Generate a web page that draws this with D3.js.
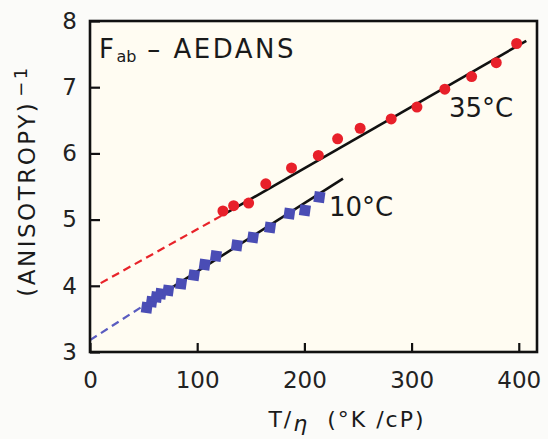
<!DOCTYPE html>
<html><head><meta charset="utf-8">
<script src="https://cdn.jsdelivr.net/npm/d3@7"></script>
<style>
html,body{margin:0;padding:0;background:#fbfbf9;}
svg{display:block;font-family:"DejaVu Sans",sans-serif;}
</style></head>
<body><svg id="c" width="548" height="439"></svg>
<script>
// Data
const xTicks = [0, 100, 200, 300, 400];
const yTicks = [3, 4, 5, 6, 7, 8];

const x35 = [124, 134, 148, 164, 188, 213, 231, 252, 281, 305, 331, 356, 379, 398];
const y35 = [5.13, 5.21, 5.25, 5.54, 5.78, 5.97, 6.22, 6.38, 6.52, 6.70, 6.97, 7.16, 7.37, 7.66];

const x10 = [53, 57.5, 62, 66, 73, 85, 97, 107, 117.5, 137, 152, 168, 186, 200.5, 214];
const y10 = [3.67, 3.76, 3.83, 3.88, 3.93, 4.03, 4.16, 4.32, 4.45, 4.61, 4.73, 4.88, 5.09, 5.14, 5.34];

// fitted lines: [x, y] endpoints
const fit35Dash = [[10, 4.04], [124, 5.07]];
const fit35Solid = [[124, 5.07], [407, 7.70]];
const fit10Dash = [[0, 3.18], [50, 3.70]];
const fit10Solid = [[50, 3.70], [236, 5.62]];

const svg = d3.select("#c");
const L = 90, R = 537, T = 21, B = 352;
const x = d3.scaleLinear().domain([0, 417]).range([L, R]);
const y = d3.scaleLinear().domain([3, 8]).range([B, T]);

svg.append("rect").attr("x", L).attr("y", T).attr("width", R - L).attr("height", B - T)
  .attr("fill", "#fffcf2");

const line = d3.line().x(d => x(d[0])).y(d => y(d[1]));

svg.append("path").attr("d", line(fit35Dash)).attr("stroke", "#e8232a").attr("stroke-width", 2.2)
  .attr("stroke-dasharray", "8,5").attr("fill", "none");
svg.append("path").attr("d", line(fit10Dash)).attr("stroke", "#5a5cc0").attr("stroke-width", 2.2)
  .attr("stroke-dasharray", "8,5").attr("fill", "none");
svg.append("path").attr("d", line(fit35Solid)).attr("stroke", "#111").attr("stroke-width", 2.6).attr("fill", "none");
svg.append("path").attr("d", line(fit10Solid)).attr("stroke", "#111").attr("stroke-width", 2.6).attr("fill", "none");

svg.append("g").selectAll("circle").data(x35.map((v, i) => [v, y35[i]])).join("circle")
  .attr("cx", d => x(d[0])).attr("cy", d => y(d[1])).attr("r", 5.5).attr("fill", "#e8202a");

const sq = d3.symbol().type(d3.symbolSquare).size(115);
svg.append("g").selectAll("path").data(x10.map((v, i) => [v, y10[i]])).join("path")
  .attr("d", sq).attr("transform", d => `translate(${x(d[0])},${y(d[1])}) rotate(8)`)
  .attr("fill", "#4a4db5");

// axes with inward ticks
const xAxis = d3.axisBottom(x).tickValues(xTicks).tickSize(-9).tickPadding(16).tickFormat(d3.format("d"));
const gx = svg.append("g").attr("transform", `translate(0,${B})`).call(xAxis);
const yAxis = d3.axisLeft(y).tickValues(yTicks).tickSize(-10).tickPadding(13).tickFormat(d3.format("d"));
const gy = svg.append("g").attr("transform", `translate(${L},0)`).call(yAxis);
[gx, gy].forEach(g => {
  g.select(".domain").remove();
  g.selectAll("line").attr("stroke", "#111").attr("stroke-width", 2.2);
  g.selectAll("text").attr("fill", "#222").style("font-size", "23px").style("font-family", "DejaVu Sans, sans-serif");
});
gx.selectAll("text").attr("dy", "0.85em");

svg.append("rect").attr("x", L).attr("y", T).attr("width", R - L).attr("height", B - T)
  .attr("fill", "none").attr("stroke", "#111").attr("stroke-width", 2.6);

// labels
const t = svg.append("text").attr("x", 99).attr("y", 58).attr("fill", "#1a1a1a")
  .style("font-size", "26px").style("letter-spacing", "2.5px");
t.append("tspan").text("F");
t.append("tspan").text("ab").style("font-size", "16px").style("letter-spacing", "0px").attr("dy", 4);
t.append("tspan").text(" – AEDANS").attr("dy", -4);

svg.append("text").attr("x", 449).attr("y", 117).attr("fill", "#1a1a1a").style("font-size", "26px").text("35°C");
svg.append("text").attr("x", 329).attr("y", 216).attr("fill", "#1a1a1a").style("font-size", "26px").text("10°C");

const xt = svg.append("text").attr("x", 347).attr("y", 427).attr("text-anchor", "middle").attr("fill", "#1a1a1a")
  .style("font-size", "22px").style("letter-spacing", "2px").attr("xml:space", "preserve");
xt.append("tspan").text("T/");
xt.append("tspan").text("η").style("font-style", "italic").attr("dy", 4);
xt.append("tspan").text("  (°K /cP)").attr("dy", -4);

const yt = svg.append("text").attr("transform", "translate(35,181) rotate(-90)").attr("text-anchor", "middle")
  .attr("fill", "#1a1a1a").style("font-size", "23px").style("letter-spacing", "2.5px");
yt.append("tspan").text("(ANISOTROPY)");
yt.append("tspan").text("−1").style("font-size", "18px").attr("dy", -8).attr("dx", 4);
</script></body></html>
